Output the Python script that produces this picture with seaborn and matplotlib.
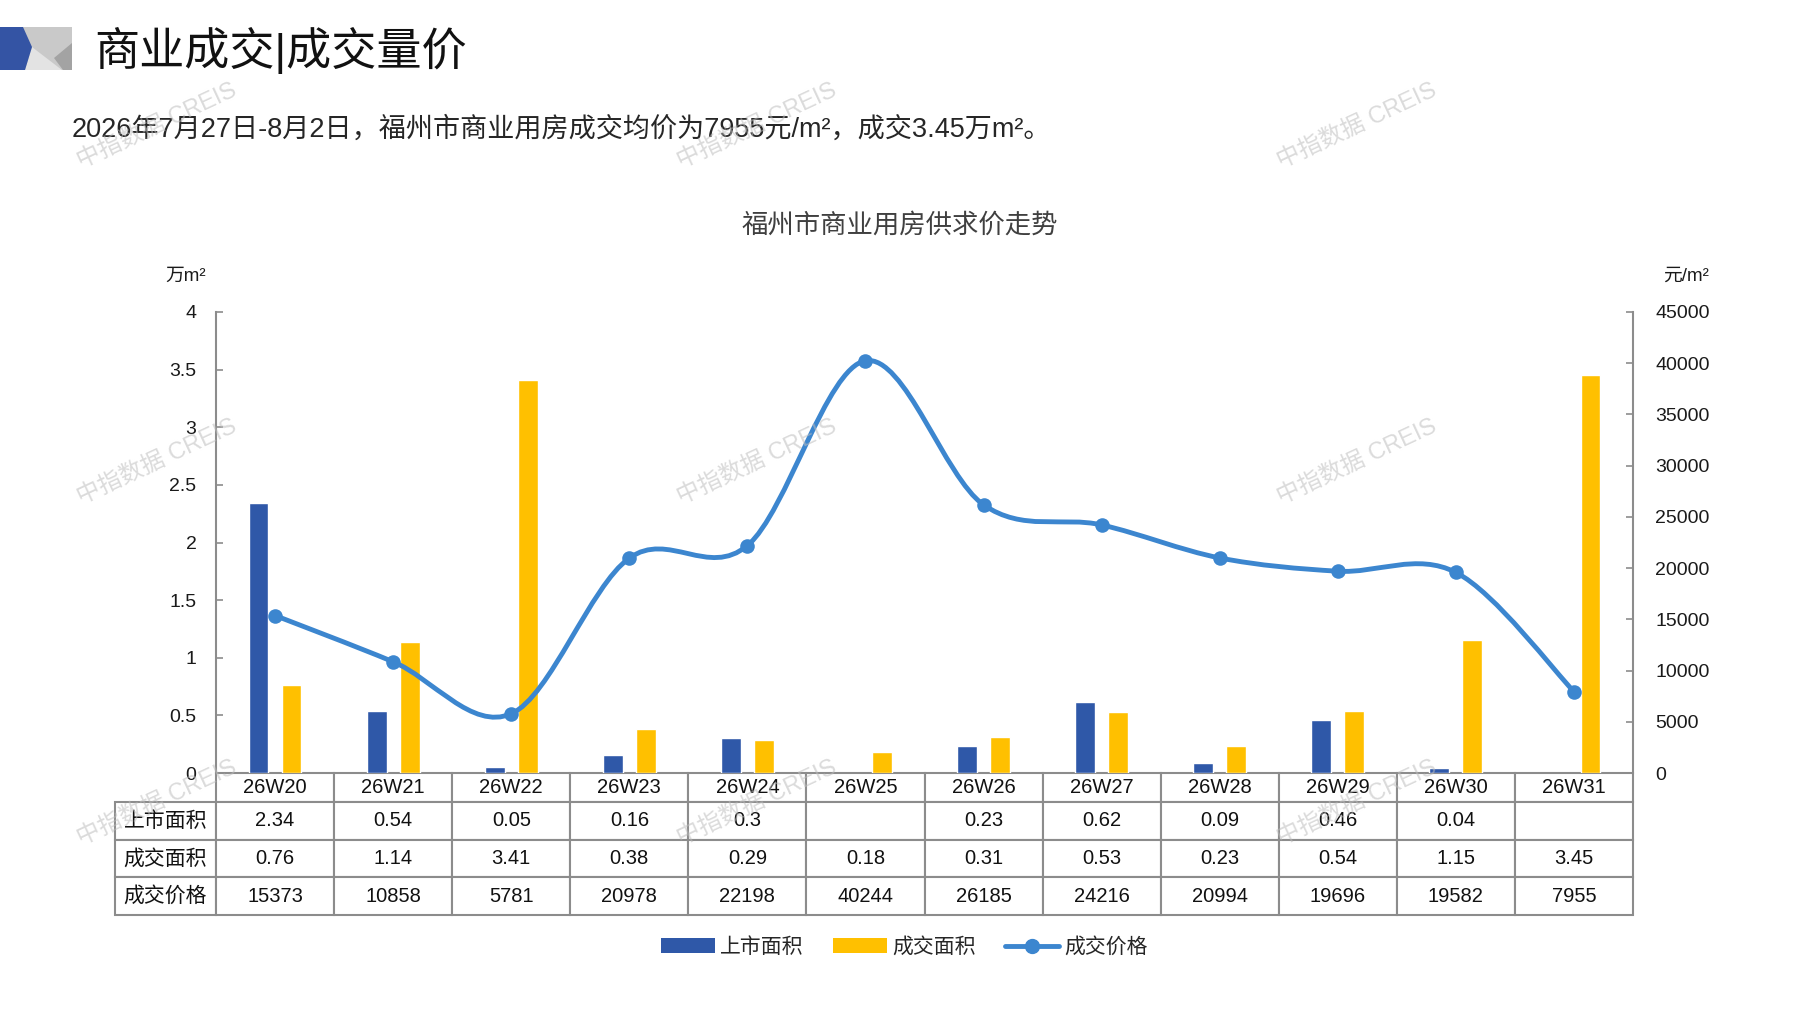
import numpy as np
import pandas as pd
import seaborn as sns
import matplotlib.pyplot as plt
from matplotlib.path import Path
from matplotlib.patches import PathPatch, Patch, Polygon
from matplotlib.lines import Line2D

# weekly data, Fuzhou commercial property
weeks = ['26W20', '26W21', '26W22', '26W23', '26W24', '26W25',
         '26W26', '26W27', '26W28', '26W29', '26W30', '26W31']
listed_area = [2.34, 0.54, 0.05, 0.16, 0.3, np.nan, 0.23, 0.62, 0.09, 0.46, 0.04, np.nan]
sold_area = [0.76, 1.14, 3.41, 0.38, 0.29, 0.18, 0.31, 0.53, 0.23, 0.54, 1.15, 3.45]
price = [15373, 10858, 5781, 20978, 22198, 40244, 26185, 24216, 20994, 19696, 19582, 7955]
series_names = ['上市面积', '成交面积', '成交价格']
area_ticks = [0, 0.5, 1, 1.5, 2, 2.5, 3, 3.5, 4]
price_ticks = [0, 5000, 10000, 15000, 20000, 25000, 30000, 35000, 40000, 45000]

BLUE = '#2f58a8'
YELLOW = '#ffc000'
LINE = '#3c86cf'
EDGE = '#8c8c8c'
W, H = 1797, 1010

sns.set_style('white')
plt.rcParams['font.family'] = ['Liberation Sans', 'Noto Sans CJK SC', 'DejaVu Sans']


def fx(px):
    return px / W


def fy(py):
    return 1 - py / H


fig = plt.figure(figsize=(W / 100, H / 100), dpi=100)
ax = fig.add_axes([fx(216), fy(773), (1633 - 216) / W, (773 - 312) / H])
ax.set_facecolor('none')

# bars
df = pd.DataFrame({
    'week': weeks * 2,
    'kind': [series_names[0]] * len(weeks) + [series_names[1]] * len(weeks),
    'value': listed_area + sold_area,
})
sns.barplot(data=df, x='week', y='value', hue='kind', hue_order=series_names[:2],
            palette=[BLUE, YELLOW], width=0.56, gap=0.4, saturation=1,
            errorbar=None, legend=False, ax=ax)
ax.set_xlim(-0.5, len(weeks) - 0.5)
ax.set_ylim(0, 4)
ax.set_yticks(area_ticks)
ax.set_yticklabels([f'{v:g}' for v in area_ticks])
ax.set_xlabel('')
ax.set_ylabel('')
ax.tick_params(axis='x', length=0, labelbottom=False)
ax.tick_params(axis='y', left=True, direction='in', length=5, width=1.2,
               color=EDGE, labelsize=14, pad=14, labelcolor='#1a1a1a')
for s in ['top', 'right', 'bottom']:
    ax.spines[s].set_visible(False)
ax.spines['left'].set_color(EDGE)
ax.spines['left'].set_linewidth(1.5)

# price line on the right axis, smoothed like the Excel original
ax2 = ax.twinx()
xs = np.arange(len(price), dtype=float)
ys = np.array(price, dtype=float)
n = len(xs)
verts = [(xs[0], ys[0])]
codes = [Path.MOVETO]
for i in range(n - 1):
    a, b = max(i - 1, 0), min(i + 2, n - 1)
    c1 = (xs[i] + (xs[i + 1] - xs[a]) / 6, ys[i] + (ys[i + 1] - ys[a]) / 6)
    c2 = (xs[i + 1] - (xs[b] - xs[i]) / 6, ys[i + 1] - (ys[b] - ys[i]) / 6)
    verts += [c1, c2, (xs[i + 1], ys[i + 1])]
    codes += [Path.CURVE4] * 3
ax2.add_patch(PathPatch(Path(verts, codes), facecolor='none', edgecolor=LINE,
                        lw=3.5, capstyle='round', zorder=3))
sns.scatterplot(x=xs, y=ys, ax=ax2, color=LINE, s=110, edgecolor=LINE,
                linewidth=0, zorder=4, legend=False)
ax2.set_xlim(-0.5, len(weeks) - 0.5)
ax2.set_ylim(0, 45000)
ax2.set_yticks(price_ticks)
ax2.set_yticklabels([str(v) for v in price_ticks])
ax2.set_ylabel('')
ax2.tick_params(axis='y', right=True, direction='in', length=5, width=1.2,
                color=EDGE, labelsize=14, pad=16, labelcolor='#1a1a1a')
for s in ['top', 'left', 'bottom']:
    ax2.spines[s].set_visible(False)
ax2.spines['right'].set_color(EDGE)
ax2.spines['right'].set_linewidth(1.5)

# data table under the plot
def fmt(v):
    return '' if np.isnan(v) else f'{v:g}'


cell_text = [[series_names[0]] + [fmt(v) for v in listed_area],
             [series_names[1]] + [fmt(v) for v in sold_area],
             [series_names[2]] + [str(v) for v in price]]
col_w = [101] + [118] * len(weeks)
tbl = ax.table(cellText=cell_text, colLabels=[''] + weeks, cellLoc='center',
               colWidths=[w / sum(col_w) for w in col_w],
               bbox=[-101 / 1417, -(915 - 773) / 461, 1 + 101 / 1417, (915 - 773) / 461])
tbl.auto_set_font_size(False)
tbl.set_fontsize(14.5)
row_h = [29, 38, 37, 38]
for (r, c), cell in tbl.get_celld().items():
    cell.set_edgecolor(EDGE)
    cell.set_linewidth(1.5)
    cell.set_height(row_h[r] / sum(row_h))
    cell.get_text().set_color('#111111')
    if c == 0:
        cell.get_text().set_fontsize(15)
    if r == 0 and c == 0:
        cell.visible_edges = ''

# titles and texts
fig.text(fx(94), fy(50), '商业成交|成交量价', fontsize=32.5, va='center', ha='left', color='#111111')
fig.text(fx(72), fy(130), '2026年7月27日-8月2日，福州市商业用房成交均价为7955元/m²，成交3.45万m²。',
         fontsize=19.5, va='center', ha='left', color='#262626')
fig.text(fx(900), fy(225), '福州市商业用房供求价走势', fontsize=19, va='center', ha='center',
         color='#404040')
fig.text(fx(165), fy(276), '万m²', fontsize=13.5, va='center', ha='left', color='#1a1a1a')
fig.text(fx(1663), fy(276), '元/m²', fontsize=13.5, va='center', ha='left', color='#1a1a1a')

# header badge
badge = [
    ([(0, 27), (72, 27), (72, 70), (0, 70)], '#c9c9c9'),
    ([(32, 47), (62, 70), (25, 70)], '#e3e3e3'),
    ([(72, 43), (54, 58), (63, 70), (72, 70)], '#a3a3a3'),
    ([(0, 27), (23, 27), (32, 47), (25, 70), (0, 70)], '#3454a4'),
]
for pts, col in badge:
    fig.add_artist(Polygon([(fx(x), fy(y)) for x, y in pts], closed=True,
                           facecolor=col, edgecolor='none', transform=fig.transFigure))

# legend
handles = [Patch(facecolor=BLUE, edgecolor='none'),
           Patch(facecolor=YELLOW, edgecolor='none'),
           Line2D([], [], color=LINE, lw=3.5, marker='o', markersize=10)]
fig.legend(handles, series_names, loc='center', bbox_to_anchor=(fx(904), fy(947)),
           ncol=3, frameon=False, fontsize=15, handlelength=2.6, handletextpad=0.25,
           columnspacing=1.4)

# watermarks
for wy in [126, 462, 803]:
    for wx in [157, 757, 1357]:
        fig.text(fx(wx), fy(wy), '中指数据 CREIS', fontsize=17, rotation=25,
                 ha='center', va='center', color='#bdbdbd', alpha=0.55, zorder=10)

fig.savefig('out.png', dpi=100)
